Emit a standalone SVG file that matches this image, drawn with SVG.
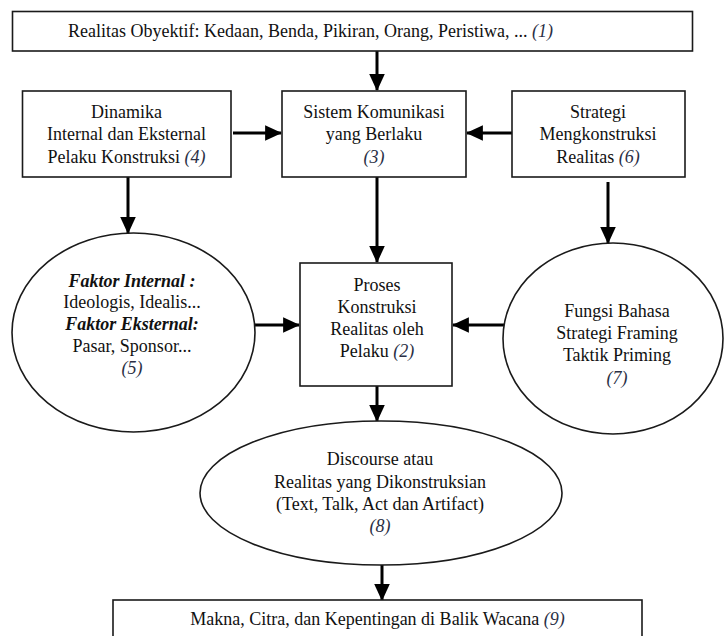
<svg xmlns="http://www.w3.org/2000/svg" width="724" height="636" viewBox="0 0 724 636">
<defs>
<style>
.box{fill:#fff;stroke:#1a1a1a;stroke-width:1.6}
.t{font-family:"Liberation Serif","Times New Roman",serif;font-size:18px;fill:#111;text-anchor:middle}
.n{font-style:italic;fill:#2a2f45}
.bi{font-style:italic;font-weight:bold}
.c{stroke:#000;stroke-width:3;fill:none;marker-end:url(#ah)}
</style>
<marker id="ah" markerWidth="6" markerHeight="6" refX="5.3" refY="3" orient="auto" markerUnits="strokeWidth" viewBox="0 0 6 6">
<path d="M0,0.4 L5.6,3 L0,5.6 Z" fill="#000"/>
</marker>
</defs>
<rect width="724" height="636" fill="#fff"/>

<g id="connectors">
<line class="c" x1="377" y1="51" x2="377" y2="90"/>
<line class="c" x1="233" y1="133" x2="281" y2="133"/>
<line class="c" x1="512" y1="133" x2="467" y2="133"/>
<line class="c" x1="128" y1="177" x2="128" y2="233"/>
<line class="c" x1="377" y1="177" x2="377" y2="262"/>
<line class="c" x1="608" y1="182" x2="608" y2="243"/>
<line class="c" x1="255" y1="325" x2="299" y2="325"/>
<line class="c" x1="504" y1="325" x2="453" y2="325"/>
<line class="c" x1="377" y1="386" x2="377" y2="421"/>
<line class="c" x1="382" y1="565" x2="382" y2="600"/>
</g>

<g id="n1">
<rect class="box" x="12.5" y="11.5" width="680" height="39.5"/>
<text class="t" x="68" y="37" style="text-anchor:start">Realitas Obyektif: Kedaan, Benda, Pikiran, Orang, Peristiwa, ... <tspan class="n">(1)</tspan></text>
</g>

<g id="n4">
<rect class="box" x="22.5" y="91" width="208.5" height="86"/>
<text class="t" x="126.5" y="118">Dinamika</text>
<text class="t" x="126.5" y="140">Internal dan Eksternal</text>
<text class="t" x="126.5" y="163">Pelaku Konstruksi <tspan class="n">(4)</tspan></text>
</g>

<g id="n3">
<rect class="box" x="282" y="91" width="184" height="86"/>
<text class="t" x="374" y="118">Sistem Komunikasi</text>
<text class="t" x="374" y="140">yang Berlaku</text>
<text class="t n" x="374" y="163">(3)</text>
</g>

<g id="n6">
<rect class="box" x="512" y="91" width="173" height="86"/>
<text class="t" x="598" y="118">Strategi</text>
<text class="t" x="598" y="140">Mengkonstruksi</text>
<text class="t" x="598" y="163">Realitas <tspan class="n">(6)</tspan></text>
</g>

<g id="n5">
<ellipse class="box" cx="133.5" cy="332.5" rx="121.5" ry="99.5"/>
<text class="t bi" x="132" y="287">Faktor Internal :</text>
<text class="t" x="132" y="308">Ideologis, Idealis...</text>
<text class="t bi" x="132" y="330">Faktor Eksternal:</text>
<text class="t" x="132" y="352">Pasar, Sponsor...</text>
<text class="t n" x="132" y="374">(5)</text>
</g>

<g id="n2">
<rect class="box" x="300" y="263" width="152" height="123"/>
<text class="t" x="377" y="291">Proses</text>
<text class="t" x="377" y="313">Konstruksi</text>
<text class="t" x="377" y="335">Realitas oleh</text>
<text class="t" x="377" y="357">Pelaku <tspan class="n">(2)</tspan></text>
</g>

<g id="n7">
<ellipse class="box" cx="613" cy="338.5" rx="110" ry="95.5"/>
<text class="t" x="617" y="317">Fungsi Bahasa</text>
<text class="t" x="617" y="339">Strategi Framing</text>
<text class="t" x="617" y="361">Taktik Priming</text>
<text class="t n" x="617" y="384">(7)</text>
</g>

<g id="n8">
<ellipse class="box" cx="381" cy="493" rx="181" ry="72"/>
<text class="t" x="380" y="465">Discourse atau</text>
<text class="t" x="380" y="488">Realitas yang Dikonstruksian</text>
<text class="t" x="380" y="510">(Text, Talk, Act dan Artifact)</text>
<text class="t n" x="380" y="532">(8)</text>
</g>

<g id="n9">
<rect class="box" x="113" y="600" width="529" height="50"/>
<text class="t" x="377.5" y="625">Makna, Citra, dan Kepentingan di Balik Wacana  <tspan class="n">(9)</tspan></text>
</g>
</svg>
